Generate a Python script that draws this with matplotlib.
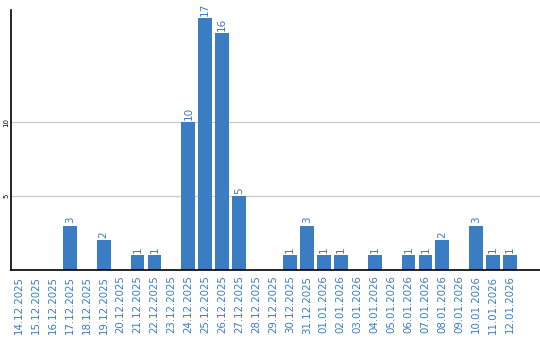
import matplotlib
matplotlib.use("Agg")
import matplotlib.pyplot as plt

dates = ["14.12.2025", "15.12.2025", "16.12.2025", "17.12.2025", "18.12.2025",
         "19.12.2025", "20.12.2025", "21.12.2025", "22.12.2025", "23.12.2025",
         "24.12.2025", "25.12.2025", "26.12.2025", "27.12.2025", "28.12.2025",
         "29.12.2025", "30.12.2025", "31.12.2025", "01.01.2026", "02.01.2026",
         "03.01.2026", "04.01.2026", "05.01.2026", "06.01.2026", "07.01.2026",
         "08.01.2026", "09.01.2026", "10.01.2026", "11.01.2026", "12.01.2026"]
counts = [0, 0, 0, 3, 0, 2, 0, 1, 1, 0,
          10, 17, 16, 5, 0, 0, 1, 3, 1, 1,
          0, 1, 0, 1, 1, 2, 0, 3, 1, 1]
yticks = [5, 10]

bar_color = "#3b7dc3"
W, H = 540, 340
fig = plt.figure(figsize=(W / 100, H / 100), dpi=100)
ax = fig.add_axes([11 / W, 70 / H, 529 / W, 260 / H])

x = list(range(len(dates)))
ax.bar(x, counts, width=0.82, color=bar_color, zorder=2)
for xi, v in zip(x, counts):
    if v > 0:
        ax.text(xi, v + 0.15, str(v), rotation=90, ha="center", va="bottom",
                fontsize=7.5, color=bar_color, zorder=3)

ax.set_xlim(-0.47, 30.76)
ax.set_ylim(0, 17.57)
ax.set_yticks(yticks)
ax.set_yticklabels([str(t) for t in yticks], rotation=90, fontsize=5,
                   va="center")
ax.set_xticks(x)
ax.set_xticklabels(dates, rotation=90, fontsize=7.4, color=bar_color)
ax.tick_params(axis="x", length=0, pad=4)
ax.tick_params(axis="y", length=0, pad=1)
ax.grid(axis="y", color="#cccccc", linewidth=1, zorder=0)
for s in ["top", "right"]:
    ax.spines[s].set_visible(False)
for s in ["left", "bottom"]:
    ax.spines[s].set_color("black")
    ax.spines[s].set_linewidth(1.2)
    ax.spines[s].set_zorder(4)

fig.savefig("out.png", dpi=100)
